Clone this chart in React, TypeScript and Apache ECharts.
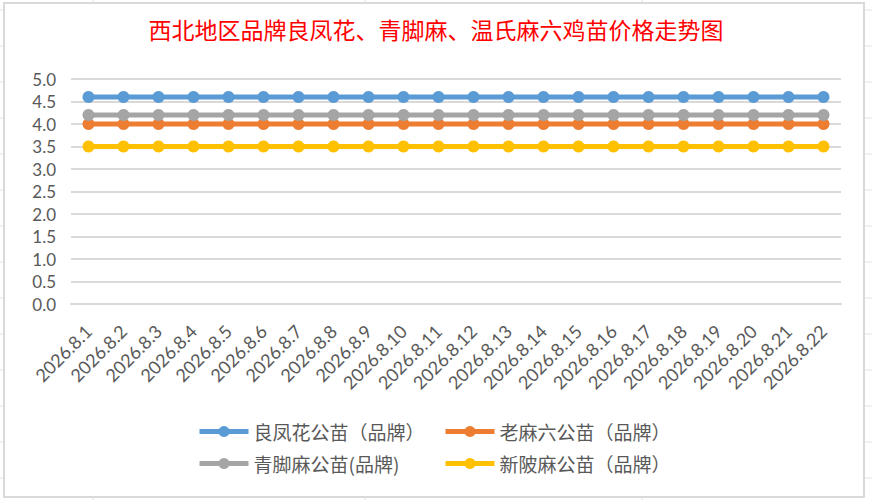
import React, { useEffect, useRef } from "react";
import * as echarts from "echarts";

const categories = [
  "2026.8.1", "2026.8.2", "2026.8.3", "2026.8.4", "2026.8.5", "2026.8.6",
  "2026.8.7", "2026.8.8", "2026.8.9", "2026.8.10", "2026.8.11", "2026.8.12",
  "2026.8.13", "2026.8.14", "2026.8.15", "2026.8.16", "2026.8.17", "2026.8.18",
  "2026.8.19", "2026.8.20", "2026.8.21", "2026.8.22",
];

const seriesNames = [
  "良凤花公苗（品牌）",
  "老麻六公苗（品牌）",
  "青脚麻公苗(品牌)",
  "新陂麻公苗（品牌）",
];

const lianFengHua = [4.6, 4.6, 4.6, 4.6, 4.6, 4.6, 4.6, 4.6, 4.6, 4.6, 4.6, 4.6, 4.6, 4.6, 4.6, 4.6, 4.6, 4.6, 4.6, 4.6, 4.6, 4.6];
const laoMaLiu = [4.0, 4.0, 4.0, 4.0, 4.0, 4.0, 4.0, 4.0, 4.0, 4.0, 4.0, 4.0, 4.0, 4.0, 4.0, 4.0, 4.0, 4.0, 4.0, 4.0, 4.0, 4.0];
const qingJiaoMa = [4.2, 4.2, 4.2, 4.2, 4.2, 4.2, 4.2, 4.2, 4.2, 4.2, 4.2, 4.2, 4.2, 4.2, 4.2, 4.2, 4.2, 4.2, 4.2, 4.2, 4.2, 4.2];
const xinPiMa = [3.5, 3.5, 3.5, 3.5, 3.5, 3.5, 3.5, 3.5, 3.5, 3.5, 3.5, 3.5, 3.5, 3.5, 3.5, 3.5, 3.5, 3.5, 3.5, 3.5, 3.5, 3.5];

const seriesData = [lianFengHua, laoMaLiu, qingJiaoMa, xinPiMa];
const colors = ["#5b9bd5", "#ed7d31", "#a5a5a5", "#ffc000"];

const titleText = "西北地区品牌良凤花、青脚麻、温氏麻六鸡苗价格走势图";

export default function App() {
  const ref = useRef<HTMLDivElement>(null);

  useEffect(() => {
    if (!ref.current) return;
    const chart = echarts.init(ref.current, undefined, { renderer: "svg" });

    const sheetLines: any[] = [];
    const lineStyle = { stroke: "#e0e0e0", lineWidth: 1 };
    [93, 365, 642].forEach((x) => {
      sheetLines.push({ type: "line", z: -20, shape: { x1: x, y1: 0, x2: x, y2: 500 }, style: lineStyle });
    });
    for (let y = 10; y < 500; y += 36) {
      sheetLines.push({ type: "line", z: -20, shape: { x1: 0, y1: y, x2: 872, y2: y }, style: lineStyle });
    }

    const legendPos = [
      { left: 197, top: 422 },
      { left: 443, top: 422 },
      { left: 197, top: 454 },
      { left: 443, top: 454 },
    ];

    chart.setOption({
      animation: false,
      backgroundColor: "#ffffff",
      color: colors,
      title: {
        text: titleText,
        left: "center",
        top: 12,
        textStyle: {
          color: "#ff0000",
          fontSize: 23,
          fontWeight: "normal",
          fontFamily: "Noto Sans CJK SC",
        },
      },
      graphic: [
        ...sheetLines,
        {
          type: "rect",
          z: -10,
          shape: { x: 4, y: 3, width: 860, height: 494 },
          style: { fill: "#ffffff", stroke: "#d9d9d9", lineWidth: 2 },
        },
      ],
      legend: seriesNames.map((name, i) => ({
        data: [name],
        left: legendPos[i].left,
        top: legendPos[i].top,
        padding: 0,
        itemWidth: 49,
        itemHeight: 14,
        lineStyle: { width: 5 },
        textStyle: {
          color: "#595959",
          fontSize: 19,
          fontFamily: "Noto Sans CJK SC",
        },
      })),
      grid: {
        left: 71,
        right: 31,
        top: 79,
        bottom: 196,
        containLabel: false,
      },
      xAxis: {
        type: "category",
        data: categories,
        boundaryGap: true,
        axisLine: { show: true, lineStyle: { color: "#d9d9d9", width: 2 } },
        axisTick: { show: false },
        axisLabel: {
          rotate: 45,
          interval: 0,
          margin: 24,
          color: "#595959",
          fontSize: 18,
          fontFamily: "Lato",
        },
      },
      yAxis: {
        type: "value",
        min: 0,
        max: 5,
        interval: 0.5,
        axisLine: { show: false },
        axisTick: { show: false },
        splitLine: { lineStyle: { color: "#d9d9d9", width: 2 } },
        axisLabel: {
          margin: 15,
          color: "#595959",
          fontSize: 17,
          fontFamily: "Lato",
          formatter: (v: number) => v.toFixed(1),
        },
      },
      series: seriesNames.map((name, i) => ({
        name,
        type: "line",
        data: seriesData[i],
        symbol: "circle",
        symbolSize: 12,
        lineStyle: { width: 5, color: colors[i] },
        itemStyle: { color: colors[i] },
      })),
    });

    return () => chart.dispose();
  }, []);

  return (
    <div
      ref={ref}
      style={{ position: "fixed", left: 0, top: 0, width: 872, height: 500, background: "#fff" }}
    />
  );
}
